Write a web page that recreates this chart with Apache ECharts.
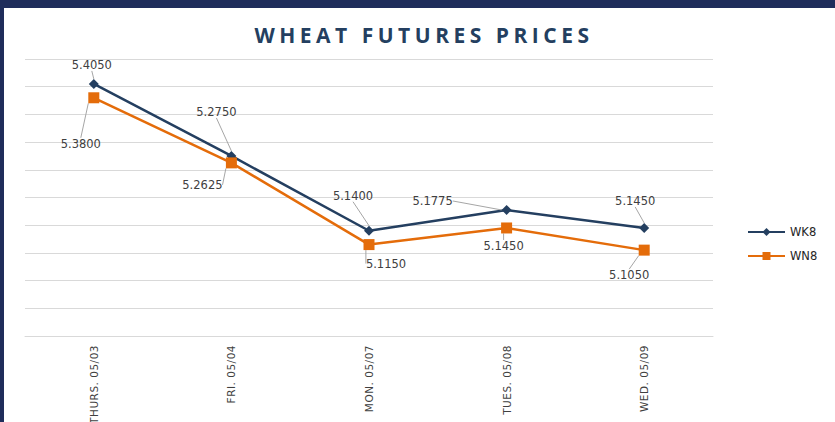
<!DOCTYPE html>
<html>
<head>
<meta charset="utf-8">
<script src="https://cdn.jsdelivr.net/npm/echarts@6/dist/echarts.min.js"></script>
<style>
html,body{margin:0;padding:0;background:#fff;}
#chart{width:835px;height:422px;}
</style>
</head>
<body>
<div id="chart"></div>
<script>
var categories = ['THURS. 05/03', 'FRI. 05/04', 'MON. 05/07', 'TUES. 05/08', 'WED. 05/09'];
var wk8 = [5.4050, 5.2750, 5.1400, 5.1775, 5.1450];
var wn8 = [5.3800, 5.2625, 5.1150, 5.1450, 5.1050];
var seriesNames = ['WK8', 'WN8'];

// label offsets (layout only)
var labelOffsets = [
  [[-2,-19],[-15,-44],[-16,-35],[-74,-9],[-9,-27]],
  [[-13,46],[-29,22],[17,19],[-3,18],[-15,25]]
];

var chart = echarts.init(document.getElementById('chart'), null, {renderer: 'svg'});

function mkSeries(name, data, color, symbol, size, idx) {
  return {
    name: name,
    type: 'line',
    data: data,
    symbol: symbol,
    symbolSize: size,
    itemStyle: {color: color},
    lineStyle: {color: color, width: 2.5},
    label: {
      show: true,
      position: 'inside',
      formatter: function (p) { return p.value.toFixed(4); },
      color: '#404040',
      fontFamily: 'DejaVu Sans',
      fontSize: 11.5
    },
    labelLine: {show: true, lineStyle: {color: '#a6a6a6', width: 1}},
    labelLayout: function (p) {
      var o = labelOffsets[idx][p.dataIndex];
      return {dx: o[0], dy: o[1]};
    },
    z: idx === 0 ? 2 : 3
  };
}

chart.setOption({
  animation: false,
  title: {
    text: 'WHEAT FUTURES PRICES',
    left: 419,
    textAlign: 'center',
    top: 19,
    textStyle: {color: '#243F60', fontFamily: 'Open Sans', fontWeight: 'bold', fontSize: 21}
  },
  legend: {
    orient: 'vertical',
    left: 742,
    top: 221,
    itemWidth: 37,
    itemHeight: 10,
    itemGap: 12,
    textStyle: {color: '#262626', fontFamily: 'DejaVu Sans', fontSize: 11.5},
    data: seriesNames
  },
  grid: {left: 25, right: 122, top: 59, bottom: 86},
  xAxis: {
    type: 'category',
    data: categories,
    boundaryGap: true,
    axisLine: {show: true, lineStyle: {color: '#d9d9d9'}},
    axisTick: {show: false},
    axisLabel: {rotate: 90, interval: 0, margin: 9, color: '#404040', fontFamily: 'DejaVu Sans', fontSize: 10.5}
  },
  yAxis: {
    type: 'value',
    min: 4.95,
    max: 5.45,
    interval: 0.05,
    axisLabel: {show: false},
    axisLine: {show: false},
    axisTick: {show: false},
    splitLine: {lineStyle: {color: '#d9d9d9', width: 1}}
  },
  graphic: [
    {type: 'rect', shape: {x: 0, y: 0, width: 835, height: 8}, style: {fill: '#1F2D5B'}, z: 100},
    {type: 'rect', shape: {x: 0, y: 0, width: 4, height: 422}, style: {fill: '#1F2D5B'}, z: 100}
  ],
  series: [
    mkSeries(seriesNames[0], wk8, '#243F60', 'diamond', 10, 0),
    mkSeries(seriesNames[1], wn8, '#E46C0A', 'rect', 11, 1)
  ]
});

var texts = document.querySelectorAll('#chart text');
texts.forEach(function (t) {
  if (t.textContent === 'WHEAT FUTURES PRICES') { t.style.letterSpacing = '4.5px'; }
  if (categories.indexOf(t.textContent) >= 0) { t.style.letterSpacing = '0.5px'; }
});
</script>
</body>
</html>
